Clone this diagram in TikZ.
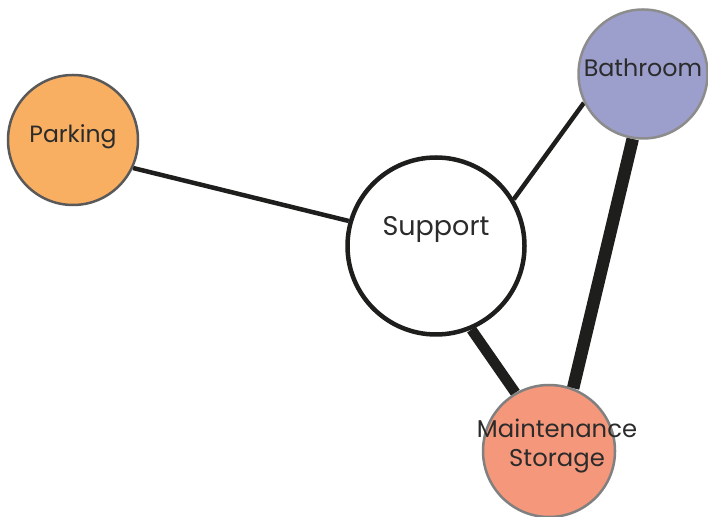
\documentclass[tikz,border=0pt]{standalone}
\usepackage{fontspec}
\setmainfont{Poppins}
\usetikzlibrary{backgrounds}
\definecolor{parkc}{HTML}{F9AF62}
\definecolor{bathc}{HTML}{9C9ECC}
\definecolor{maintc}{HTML}{F5977B}
\definecolor{edgec}{HTML}{1E1E1C}
\definecolor{txtc}{HTML}{2B2B2B}
\begin{document}
\begin{tikzpicture}[x=1pt,y=1pt,
    room/.style={circle, draw=#1, line width=2.5pt, inner sep=0pt},
    lbl/.style={text=txtc, font=\fontsize{23.5}{29}\selectfont, align=center},
    link/.style={draw=edgec, line width=#1}]
\useasboundingbox (0,0) rectangle (708,516);

\node[room=black!65, fill=parkc, minimum size=130pt,
    label={[lbl, yshift=3pt]center:Parking}] (parking) at (73,376) {};
\node[room=edgec, line width=4.5pt, fill=white, minimum size=177pt,
    label={[lbl, font=\fontsize{27}{32}\selectfont, yshift=17pt]center:Support}] (support) at (436,270) {};
\node[room=black!45, fill=bathc, minimum size=129pt,
    label={[lbl, font=\fontsize{23.8}{29}\selectfont, yshift=6pt]center:Bathroom}] (bathroom) at (643,442) {};
\node[room=black!50, fill=maintc, minimum size=132pt,
    label={[lbl, font=\fontsize{24.3}{29}\selectfont, xshift=8pt, yshift=5pt]center:Maintenance\\Storage}] (maint) at (549,65) {};

\begin{scope}[on background layer]
\draw[link=4.5pt] (parking.-25) -- (support.164);
\draw[link=4.5pt] (support.31) -- (bathroom.206);
\draw[link=10.5pt] (support.293) -- (maint.120);
\draw[link=12.5pt] (bathroom.261) -- (maint.69);
\end{scope}

\end{tikzpicture}
\end{document}
